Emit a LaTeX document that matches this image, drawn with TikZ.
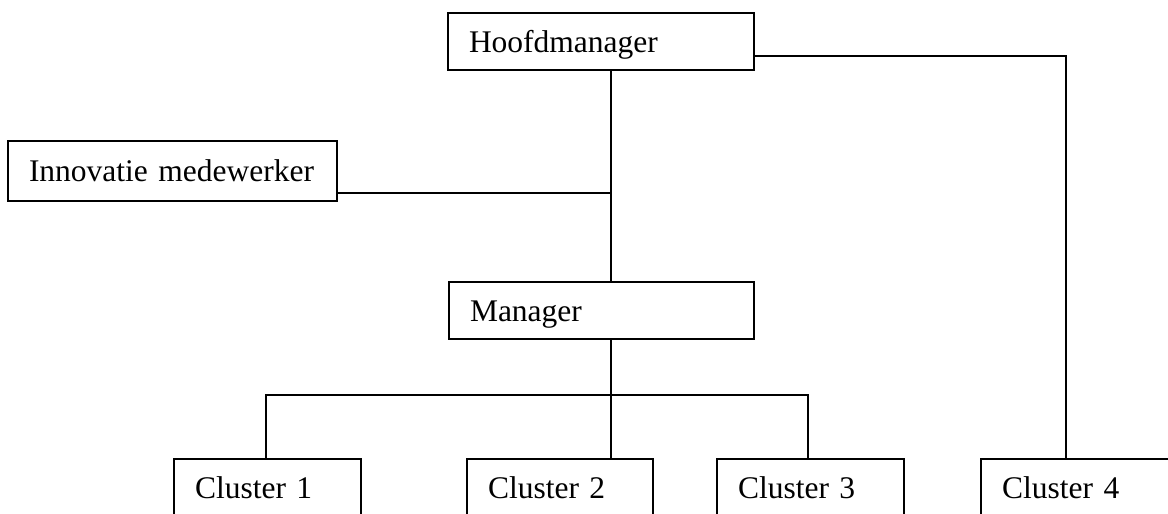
\documentclass[tikz,border=0pt]{standalone}
\usepackage{fontspec}
\setmainfont{Liberation Serif}
\begin{document}
\begin{tikzpicture}[x=1pt,y=-1pt,
  orgbox/.style={draw=black, line width=1.8pt, rectangle, inner xsep=21pt, inner ysep=0pt,
    text height=21pt, text depth=0pt, align=left,
    font=\fontsize{31.5}{36}\selectfont},
  conn/.style={draw=black, line width=2pt}]
\useasboundingbox (0,0) rectangle (1168,514);
\clip (0,0) rectangle (1168,514);
\fill[white] (0,0) rectangle (1168,514);
\node[orgbox, text width=264pt, minimum height=57pt] (H) at (601,41.5) {Hoofdmanager};
\node[orgbox, text width=287pt, minimum height=60pt] (I) at (172.5,171) {Innovatie medewerker};
\node[orgbox, text width=263pt, minimum height=57pt] (M) at (601.5,310.5) {Manager};
\node[orgbox, text width=145pt, minimum height=57pt] (C1) at (267.5,487.5) {Cluster 1};
\node[orgbox, text width=144pt, minimum height=57pt] (C2) at (560,487.5) {Cluster 2};
\node[orgbox, text width=145pt, minimum height=57pt] (C3) at (810.5,487.5) {Cluster 3};
\node[orgbox, text width=150pt, minimum height=57pt] (C4) at (1077,487.5) {Cluster 4};
\coordinate (j) at (611,193);
\coordinate (k) at (1066,56);
\coordinate (b) at (611,395);
\coordinate (b1) at (266,395);
\coordinate (b3) at (808,395);
\draw[conn] (H.south -| j) -- (M.north -| j);
\draw[conn] (I.east |- j) -- (j);
\draw[conn] (H.east |- k) -- (k) -- (k |- C4.north);
\draw[conn] (M.south -| b) -- (b);
\draw[conn] (b1 |- C1.north) -- (b1) -- (b3) -- (b3 |- C3.north);
\draw[conn] (b) -- (b |- C2.north);
\end{tikzpicture}
\end{document}
